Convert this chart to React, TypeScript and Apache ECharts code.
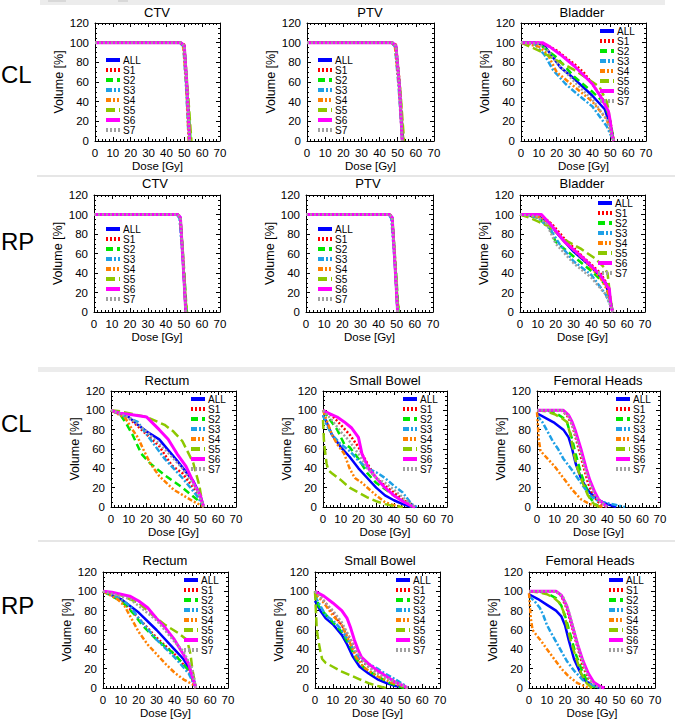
import React, { useEffect, useRef } from 'react';
import * as echarts from 'echarts';

const SERIES_NAMES = ['ALL', 'S1', 'S2', 'S3', 'S4', 'S5', 'S6', 'S7'];
const DOSE_RANGE = [0, 70];
const VOLUME_RANGE = [0, 120];

const CTV_CL = {
  ALL: [[0, 100], [48, 100], [50, 97], [51.5, 55], [53, 0]],
  S1: [[0, 100], [48, 100], [50, 98], [51.5, 58], [53, 0]],
  S2: [[0, 100], [48, 100], [50, 97], [52, 45], [53.5, 0]],
  S3: [[0, 100], [47.5, 100], [49.5, 96], [51, 55], [52.5, 0]],
  S4: [[0, 100], [48, 100], [49.5, 95], [51, 60], [52.5, 0]],
  S5: [[0, 100], [48, 100], [50, 96], [52, 50], [54, 0]],
  S6: [[0, 100], [48, 100], [50, 97], [51.5, 55], [53, 0]],
  S7: [[0, 100], [48, 100], [50, 97], [51.5, 56], [53, 0]],
};
const PTV_CL = {
  ALL: [[0, 100], [47, 100], [49, 97], [51, 55], [52.5, 0]],
  S1: [[0, 100], [47, 100], [49, 98], [51, 60], [53, 0]],
  S2: [[0, 100], [47, 100], [49, 96], [51.5, 45], [53, 0]],
  S3: [[0, 100], [46.5, 100], [48.5, 96], [50.5, 55], [52.5, 0]],
  S4: [[0, 100], [47, 100], [48.5, 95], [50.5, 60], [52.5, 0]],
  S5: [[0, 100], [47, 100], [49, 96], [51.5, 50], [53.5, 0]],
  S6: [[0, 100], [47, 100], [49, 97], [51, 55], [52.5, 0]],
  S7: [[0, 100], [47, 100], [49, 97], [51, 56], [52.5, 0]],
};
const BLADDER_CL = {
  ALL: [[0, 100], [8, 100], [13, 97], [18, 85], [22, 75], [30, 63], [40, 46], [47, 32], [50, 15], [52, 0]],
  S1: [[0, 100], [10, 100], [15, 97], [20, 92], [30, 78], [35, 70], [40, 58], [45, 45], [48, 35], [50, 20], [52, 0]],
  S2: [[0, 100], [10, 99], [20, 85], [30, 65], [40, 50], [47, 38], [50, 20], [52, 0]],
  S3: [[0, 100], [8, 98], [13, 88], [18, 72], [25, 58], [30, 50], [40, 35], [48, 15], [51, 3], [52, 0]],
  S4: [[0, 100], [10, 96], [15, 88], [20, 70], [30, 55], [40, 40], [48, 22], [51, 5], [52, 0]],
  S5: [[0, 100], [5, 96], [10, 92], [20, 82], [30, 72], [40, 60], [44, 55], [48, 40], [49, 32], [50, 15], [51, 5], [52, 0]],
  S6: [[0, 100], [12, 100], [16, 96], [22, 88], [30, 76], [40, 58], [45, 44], [49, 30], [50, 20], [51, 5], [52, 0]],
  S7: [[0, 100], [10, 99], [15, 92], [20, 80], [30, 60], [40, 42], [48, 22], [51, 5], [52, 0]],
};
const CTV_RP = {
  ALL: [[0, 100], [46.5, 100], [48, 97], [49.5, 50], [51, 0]],
  S1: [[0, 100], [46.5, 100], [48, 98], [49.5, 55], [51, 0]],
  S2: [[0, 100], [46.5, 100], [48, 97], [50, 45], [51.5, 0]],
  S3: [[0, 100], [46, 100], [47.5, 96], [49.5, 50], [51, 0]],
  S4: [[0, 100], [46.5, 100], [48, 96], [49.5, 55], [51, 0]],
  S5: [[0, 100], [46.5, 100], [48, 96], [50, 40], [51, 10], [52, 0]],
  S6: [[0, 100], [46.5, 100], [48, 97], [49.5, 50], [51, 0]],
  S7: [[0, 100], [46.5, 100], [48, 97], [49.5, 52], [51, 0]],
};
const PTV_RP = {
  ALL: [[0, 100], [46, 100], [47.5, 97], [49, 50], [50.5, 0]],
  S1: [[0, 100], [46, 100], [47.5, 98], [49, 55], [50.5, 0]],
  S2: [[0, 100], [46, 100], [47.5, 97], [49.5, 45], [51, 0]],
  S3: [[0, 100], [45.5, 100], [47, 96], [49, 50], [50.5, 0]],
  S4: [[0, 100], [46, 100], [47.5, 96], [49, 55], [50.5, 0]],
  S5: [[0, 100], [46, 100], [47.5, 96], [49.5, 40], [50.5, 10], [51.5, 0]],
  S6: [[0, 100], [46, 100], [47.5, 97], [49, 50], [50.5, 0]],
  S7: [[0, 100], [46, 100], [47.5, 97], [49, 52], [50.5, 0]],
};
const BLADDER_RP = {
  ALL: [[0, 100], [10, 98], [16, 92], [22, 78], [30, 62], [40, 46], [48, 30], [51, 8], [52, 0]],
  S1: [[0, 100], [12, 99], [18, 90], [25, 75], [35, 57], [45, 40], [49, 28], [51, 8], [52, 0]],
  S2: [[0, 100], [10, 97], [17, 85], [20, 72], [30, 57], [40, 42], [48, 28], [51, 8], [52, 0]],
  S3: [[0, 100], [10, 97], [17, 85], [22, 70], [30, 52], [40, 38], [48, 18], [51, 5], [52, 0]],
  S4: [[0, 100], [12, 97], [18, 88], [25, 72], [35, 55], [45, 35], [49, 22], [51, 6], [52, 0]],
  S5: [[0, 100], [5, 97], [10, 93], [17, 87], [25, 74], [34, 65], [42, 55], [47, 46], [49, 40], [50, 24], [51, 10], [52, 0]],
  S6: [[0, 100], [12, 100], [17, 90], [25, 72], [35, 56], [45, 38], [49, 26], [50, 24], [51, 5], [52, 0]],
  S7: [[0, 100], [10, 98], [15, 90], [20, 70], [30, 50], [40, 35], [48, 18], [51, 5], [52, 0]],
};
const RECTUM_CL = {
  ALL: [[0, 100], [10, 93], [15, 85], [20, 78], [27, 70], [37, 48], [46, 27], [50, 12], [52, 0]],
  S1: [[0, 100], [10, 92], [20, 75], [27, 63], [34, 43], [40, 35], [48, 15], [52, 0]],
  S2: [[0, 100], [5, 96], [8, 88], [12, 75], [17, 55], [22, 45], [30, 33], [40, 20], [48, 8], [51, 2], [52, 0]],
  S3: [[0, 100], [10, 92], [15, 88], [20, 75], [30, 50], [40, 30], [48, 12], [52, 0]],
  S4: [[0, 100], [8, 92], [12, 80], [15, 72], [18, 60], [22, 45], [27, 32], [35, 18], [45, 7], [52, 0]],
  S5: [[0, 100], [5, 99], [10, 97], [20, 93], [30, 85], [35, 78], [40, 68], [46, 46], [49.5, 22], [51, 5], [52, 0]],
  S6: [[0, 100], [5, 97], [10, 96], [20, 93], [27, 80], [32, 70], [37, 55], [42, 42], [47, 22], [50, 12], [51, 5], [52, 0]],
  S7: [[0, 100], [10, 93], [20, 78], [30, 60], [40, 40], [48, 18], [52, 0]],
};
const SMALL_BOWEL_CL = {
  ALL: [[0, 95], [2, 88], [5, 75], [10, 62], [15, 52], [20, 40], [25, 30], [30, 20], [35, 12], [40, 7], [45, 3], [50, 0]],
  S1: [[0, 100], [5, 95], [10, 85], [15, 75], [20, 62], [25, 45], [30, 30], [35, 22], [40, 15], [45, 8], [50, 2], [52, 0]],
  S2: [[0, 100], [4, 90], [8, 80], [12, 65], [15, 62], [20, 50], [25, 35], [30, 25], [40, 12], [48, 3], [50, 0]],
  S3: [[0, 95], [2, 85], [5, 75], [10, 65], [15, 58], [20, 48], [25, 40], [30, 36], [35, 30], [40, 22], [45, 15], [50, 3], [53, 0]],
  S4: [[0, 100], [3, 85], [5, 75], [8, 65], [12, 55], [15, 40], [18, 30], [22, 25], [30, 12], [35, 5], [40, 2], [45, 0]],
  S5: [[0, 90], [0.5, 70], [1, 60], [2, 45], [3, 38], [5, 35], [10, 28], [15, 20], [20, 15], [25, 10], [30, 6], [35, 3], [40, 1], [45, 0]],
  S6: [[0, 100], [3, 97], [8, 93], [12, 88], [16, 82], [20, 72], [22, 55], [26, 39], [32, 26], [35, 20], [40, 12], [45, 6], [50, 1], [52, 0]],
  S7: [[0, 100], [5, 90], [10, 78], [15, 68], [20, 55], [25, 40], [30, 30], [35, 25], [40, 18], [45, 10], [50, 3], [52, 0]],
};
const FEMORAL_CL = {
  ALL: [[0, 97], [5, 92], [10, 87], [15, 80], [18, 72], [20, 60], [22, 45], [25, 30], [28, 20], [30, 15], [35, 7], [40, 3], [45, 0]],
  S1: [[0, 100], [14, 100], [17, 95], [20, 85], [23, 65], [26, 45], [29, 25], [32, 12], [35, 5], [38, 1], [40, 0]],
  S2: [[0, 100], [5, 100], [10, 98], [15, 92], [17, 88], [20, 70], [22, 55], [25, 35], [28, 20], [30, 10], [33, 3], [36, 0]],
  S3: [[0, 95], [3, 88], [6, 78], [9, 68], [12, 60], [15, 50], [20, 38], [25, 25], [30, 12], [35, 6], [40, 4], [45, 2], [50, 0]],
  S4: [[0, 98], [0.5, 85], [1, 70], [2, 58], [5, 52], [10, 42], [15, 30], [20, 18], [25, 8], [30, 3], [35, 1], [38, 0]],
  S5: [[0, 100], [5, 99], [10, 96], [14, 92], [17, 88], [19, 75], [21, 55], [23, 40], [26, 25], [29, 12], [32, 4], [35, 0]],
  S6: [[0, 100], [10, 100], [15, 100], [18, 95], [20, 88], [22, 78], [25, 60], [28, 40], [30, 28], [33, 15], [35, 8], [38, 3], [40, 0]],
  S7: [[0, 100], [14, 100], [18, 94], [21, 80], [24, 62], [27, 42], [30, 25], [33, 12], [36, 5], [40, 0]],
};
const RECTUM_RP = {
  ALL: [[0, 100], [5, 96], [10, 92], [15, 85], [20, 78], [30, 60], [40, 40], [45, 30], [50, 15], [52, 0]],
  S1: [[0, 100], [10, 92], [15, 82], [20, 72], [30, 52], [40, 35], [48, 18], [52, 0]],
  S2: [[0, 100], [5, 95], [10, 90], [13, 85], [18, 75], [22, 65], [30, 50], [40, 35], [48, 18], [52, 0]],
  S3: [[0, 100], [10, 92], [15, 85], [20, 72], [30, 50], [40, 32], [48, 15], [52, 0]],
  S4: [[0, 100], [8, 92], [12, 85], [15, 75], [20, 58], [25, 45], [30, 35], [35, 25], [40, 16], [45, 9], [50, 4], [52, 0]],
  S5: [[0, 100], [10, 96], [20, 88], [28, 75], [35, 65], [42, 57], [47, 50], [49, 35], [50, 20], [52, 0]],
  S6: [[0, 100], [5, 99], [10, 97], [15, 95], [20, 90], [25, 83], [30, 72], [35, 62], [40, 50], [45, 35], [48, 25], [50, 12], [52, 0]],
  S7: [[0, 100], [10, 95], [15, 92], [20, 85], [30, 70], [40, 48], [45, 38], [50, 20], [52, 0]],
};
const SMALL_BOWEL_RP = {
  ALL: [[0, 90], [3, 80], [6, 72], [10, 66], [15, 55], [18, 45], [21, 33], [25, 22], [30, 15], [35, 9], [40, 5], [45, 2], [50, 1], [52, 0]],
  S1: [[0, 100], [5, 90], [10, 78], [15, 65], [20, 50], [23, 38], [25, 30], [30, 22], [35, 16], [40, 11], [45, 7], [50, 2], [52, 0]],
  S2: [[0, 100], [2, 85], [5, 78], [10, 68], [15, 58], [20, 42], [23, 30], [28, 20], [35, 12], [42, 5], [48, 1], [50, 0]],
  S3: [[0, 95], [3, 85], [6, 75], [10, 70], [15, 60], [20, 45], [23, 35], [25, 30], [30, 25], [35, 20], [40, 14], [45, 9], [50, 3], [52, 0]],
  S4: [[0, 98], [5, 88], [10, 75], [15, 65], [20, 45], [23, 32], [27, 22], [30, 18], [35, 12], [40, 8], [45, 4], [50, 1], [52, 0]],
  S5: [[0, 100], [0.5, 80], [1, 60], [2, 48], [3, 38], [4, 30], [6, 26], [10, 22], [15, 17], [20, 13], [25, 9], [30, 5], [35, 2], [40, 0]],
  S6: [[0, 100], [5, 95], [10, 88], [15, 80], [18, 72], [20, 62], [22, 50], [24, 40], [26, 32], [30, 25], [35, 18], [40, 12], [45, 6], [50, 2], [52, 0]],
  S7: [[0, 100], [5, 90], [10, 80], [15, 68], [20, 50], [23, 38], [27, 28], [30, 22], [35, 15], [40, 10], [45, 6], [50, 2], [52, 0]],
};
const FEMORAL_RP = {
  ALL: [[0, 97], [5, 92], [10, 86], [15, 80], [18, 74], [20, 65], [22, 50], [25, 30], [28, 18], [31, 8], [35, 3], [40, 0]],
  S1: [[0, 100], [15, 100], [18, 95], [21, 82], [24, 62], [27, 42], [30, 22], [33, 10], [36, 4], [40, 0]],
  S2: [[0, 100], [5, 100], [10, 98], [15, 93], [18, 85], [20, 75], [23, 55], [26, 35], [29, 20], [32, 8], [35, 2], [38, 0]],
  S3: [[0, 95], [3, 90], [6, 83], [8, 75], [10, 65], [12, 58], [15, 48], [18, 38], [21, 28], [25, 18], [30, 8], [35, 3], [40, 0]],
  S4: [[0, 98], [0.5, 85], [1, 72], [2, 60], [4, 55], [7, 48], [10, 40], [14, 30], [18, 20], [22, 12], [27, 5], [32, 1], [35, 0]],
  S5: [[0, 100], [5, 99], [10, 97], [14, 93], [17, 88], [19, 80], [21, 65], [23, 50], [26, 32], [29, 15], [32, 5], [35, 0]],
  S6: [[0, 100], [5, 100], [10, 100], [15, 100], [18, 96], [21, 85], [24, 65], [27, 45], [30, 28], [33, 15], [36, 6], [40, 1], [42, 0]],
  S7: [[0, 100], [15, 100], [19, 94], [22, 80], [25, 60], [28, 38], [31, 20], [34, 8], [37, 2], [40, 0]],
};

const STYLES: Record<string, { color: string; type: any; width: number }> = {
  ALL: { color: '#0000ff', type: 'solid', width: 2.5 },
  S1: { color: '#ff0000', type: [2, 2], width: 2.5 },
  S2: { color: '#00e600', type: [7, 4], width: 2.5 },
  S3: { color: '#1ea0e6', type: [6, 2, 2, 2], width: 2.5 },
  S4: { color: '#ff8000', type: [5, 2, 2, 2, 2, 2], width: 2.5 },
  S5: { color: '#8cc800', type: [9, 4], width: 2.5 },
  S6: { color: '#ff00ff', type: 'solid', width: 3 },
  S7: { color: '#a0a0a0', type: [2, 2], width: 2.5 },
};

const FONT = 'Liberation Sans, Arial, sans-serif';

const PANELS = [
  { title: 'CTV', data: CTV_CL, l: 95, r: 220, t: 23, b: 141, tx: 157, ty: 12, lgL: 104, lgT: 55 },
  { title: 'PTV', data: PTV_CL, l: 307, r: 434, t: 23, b: 141, tx: 370, ty: 12, lgL: 316, lgT: 55 },
  { title: 'Bladder', data: BLADDER_CL, l: 521, r: 646, t: 23, b: 141, tx: 582, ty: 12, lgL: 598, lgT: 26 },
  { title: 'CTV', data: CTV_RP, l: 94, r: 220, t: 195, b: 312, tx: 155, ty: 183, lgL: 104, lgT: 224 },
  { title: 'PTV', data: PTV_RP, l: 306, r: 433, t: 195, b: 312, tx: 368, ty: 183, lgL: 316, lgT: 224 },
  { title: 'Bladder', data: BLADDER_RP, l: 520, r: 645, t: 195, b: 312, tx: 582, ty: 183, lgL: 596, lgT: 198 },
  { title: 'Rectum', data: RECTUM_CL, l: 111, r: 236, t: 391, b: 507, tx: 167, ty: 380, lgL: 189, lgT: 394 },
  { title: 'Small Bowel', data: SMALL_BOWEL_CL, l: 323, r: 447, t: 391, b: 507, tx: 385, ty: 380, lgL: 401, lgT: 394 },
  { title: 'Femoral Heads', data: FEMORAL_CL, l: 537, r: 660, t: 391, b: 507, tx: 598, ty: 380, lgL: 614, lgT: 394 },
  { title: 'Rectum', data: RECTUM_RP, l: 103, r: 228, t: 572, b: 688, tx: 165, ty: 560, lgL: 182, lgT: 575 },
  { title: 'Small Bowel', data: SMALL_BOWEL_RP, l: 315, r: 440, t: 572, b: 688, tx: 380, ty: 560, lgL: 394, lgT: 575 },
  { title: 'Femoral Heads', data: FEMORAL_RP, l: 529, r: 655, t: 572, b: 688, tx: 590, ty: 560, lgL: 607, lgT: 575 },
];

const ROW_LABELS = [
  { text: 'CL', y: 74 },
  { text: 'RP', y: 241 },
  { text: 'CL', y: 423 },
  { text: 'RP', y: 605 },
];

function buildOption() {
  const grid: any[] = [];
  const xAxis: any[] = [];
  const yAxis: any[] = [];
  const series: any[] = [];
  const legend: any[] = [];
  const graphic: any[] = [
    { type: 'rect', shape: { x: 40, y: 0, width: 625, height: 5 }, style: { fill: '#ececec' }, silent: true },
    { type: 'rect', shape: { x: 48, y: 0, width: 18, height: 2 }, style: { fill: '#d8d8d8' }, silent: true },
    { type: 'rect', shape: { x: 118, y: 0, width: 10, height: 2 }, style: { fill: '#d8d8d8' }, silent: true },
    { type: 'rect', shape: { x: 37, y: 175, width: 638, height: 2 }, style: { fill: '#e6e6e6' }, silent: true },
    { type: 'rect', shape: { x: 38, y: 367, width: 637, height: 5 }, style: { fill: '#ececec' }, silent: true },
    { type: 'rect', shape: { x: 38, y: 540, width: 637, height: 2 }, style: { fill: '#e6e6e6' }, silent: true },
  ];
  ROW_LABELS.forEach((r) => {
    graphic.push({
      type: 'text', x: 1, y: r.y, silent: true,
      style: { text: r.text, fill: '#000', font: `24px ${FONT}`, textAlign: 'left', textVerticalAlign: 'middle' },
    });
  });

  const tick = { show: true, inside: true, length: 4, lineStyle: { color: '#000', width: 1 } };
  const axisLine = { show: true, onZero: false, lineStyle: { color: '#000', width: 1 } };

  PANELS.forEach((p, i) => {
    grid.push({ left: p.l, top: p.t, width: p.r - p.l, height: p.b - p.t, containLabel: false });
    graphic.push({
      type: 'text', x: p.tx, y: p.ty, silent: true,
      style: { text: p.title, fill: '#000', font: `13px ${FONT}`, textAlign: 'center', textVerticalAlign: 'middle' },
    });
    const xb = xAxis.length;
    xAxis.push({
      gridIndex: i, type: 'value', min: DOSE_RANGE[0], max: DOSE_RANGE[1], interval: 10, position: 'bottom',
      axisLine, axisTick: tick, minorTick: { show: true, splitNumber: 5, length: 2, lineStyle: { color: '#000' } },
      splitLine: { show: false },
      axisLabel: { show: true, fontSize: 11.5, color: '#000', margin: 6, fontFamily: FONT },
      name: 'Dose [Gy]', nameLocation: 'middle', nameGap: 17,
      nameTextStyle: { fontSize: 11.5, color: '#000', fontFamily: FONT },
    });
    xAxis.push({
      gridIndex: i, type: 'value', min: DOSE_RANGE[0], max: DOSE_RANGE[1], interval: 10, position: 'top',
      axisLine, axisTick: tick, minorTick: { show: true, splitNumber: 5, length: 2, lineStyle: { color: '#000' } },
      splitLine: { show: false }, axisLabel: { show: false },
    });
    const yb = yAxis.length;
    yAxis.push({
      gridIndex: i, type: 'value', min: VOLUME_RANGE[0], max: VOLUME_RANGE[1], interval: 20, position: 'left',
      axisLine, axisTick: tick, minorTick: { show: true, splitNumber: 4, length: 2, lineStyle: { color: '#000' } },
      splitLine: { show: false },
      axisLabel: { show: true, fontSize: 11.5, color: '#000', margin: 6, fontFamily: FONT },
      name: 'Volume [%]', nameLocation: 'middle', nameGap: 30, nameRotate: 90,
      nameTextStyle: { fontSize: 12.5, color: '#000', fontFamily: FONT },
    });
    yAxis.push({
      gridIndex: i, type: 'value', min: VOLUME_RANGE[0], max: VOLUME_RANGE[1], interval: 20, position: 'right',
      axisLine, axisTick: tick, minorTick: { show: true, splitNumber: 4, length: 2, lineStyle: { color: '#000' } },
      splitLine: { show: false }, axisLabel: { show: false },
    });
    SERIES_NAMES.forEach((name) => {
      const s = STYLES[name];
      series.push({
        type: 'line', name, xAxisIndex: xb, yAxisIndex: yb,
        data: (p.data as any)[name], symbol: 'none', showSymbol: false, clip: true,
        lineStyle: { color: s.color, width: s.width, type: s.type },
        itemStyle: { color: s.color },
        z: 2,
      });
    });
    legend.push({
      data: SERIES_NAMES, orient: 'vertical', left: p.lgL, top: p.lgT, padding: 0,
      itemWidth: 14, itemHeight: 8, itemGap: 0, selectedMode: false,
      itemStyle: { opacity: 0 },
      lineStyle: { width: 4 },
      textStyle: { fontSize: 10, color: '#000', fontFamily: FONT, lineHeight: 10, padding: [0, 0, 0, -2] },
    });
  });

  return { animation: false, backgroundColor: '#fff', grid, xAxis, yAxis, series, legend, graphic };
}

export default function App() {
  const ref = useRef<HTMLDivElement>(null);
  useEffect(() => {
    if (!ref.current) return;
    const chart = echarts.init(ref.current, undefined, { renderer: 'svg' });
    chart.setOption(buildOption() as any);
    return () => chart.dispose();
  }, []);
  return <div ref={ref} style={{ position: 'fixed', left: 0, top: 0, width: 675, height: 720, background: '#fff' }} />;
}
